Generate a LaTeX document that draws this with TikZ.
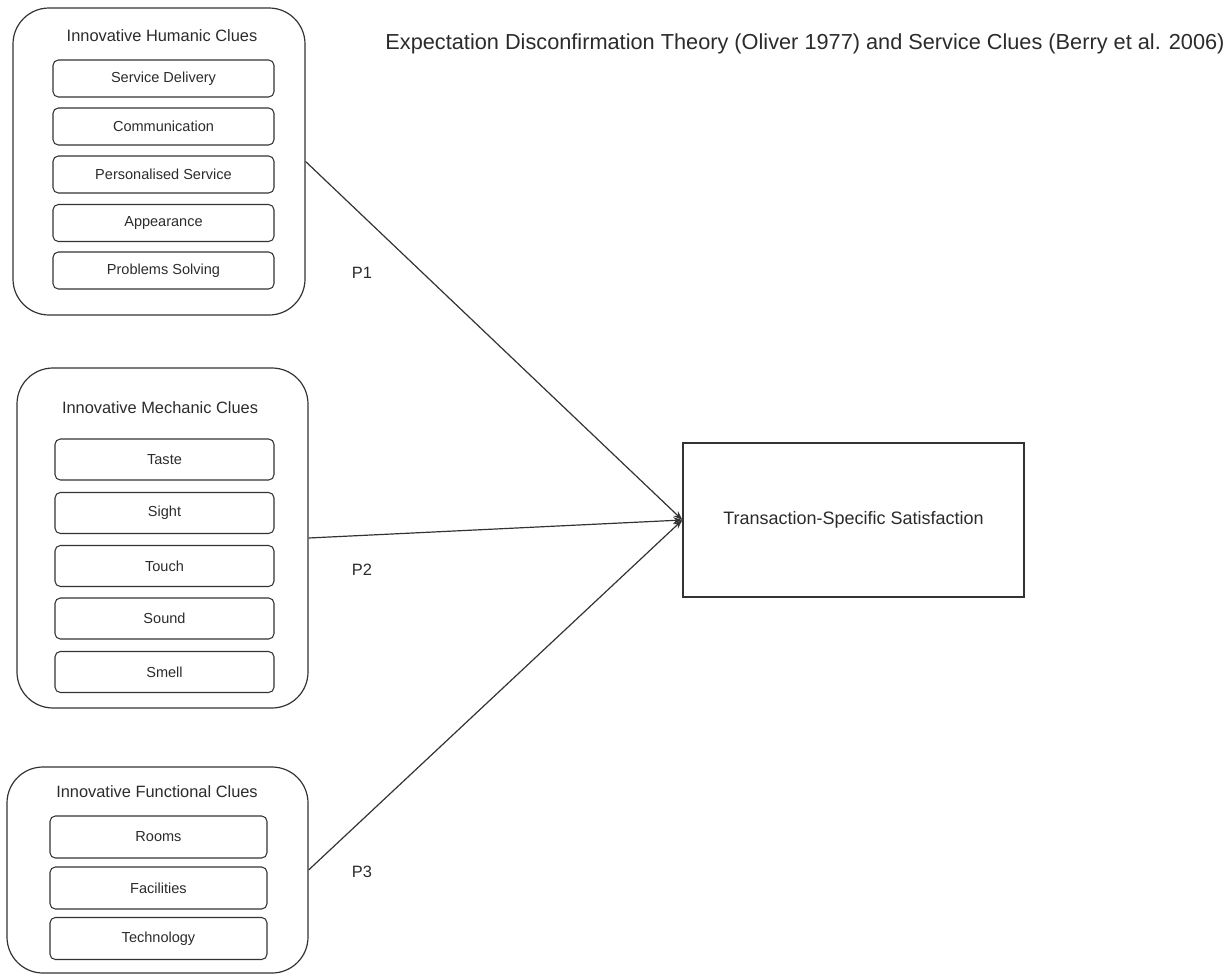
\documentclass[tikz,border=0pt]{standalone}
\usepackage{fontspec}
\setmainfont{Liberation Sans}
\usetikzlibrary{arrows.meta,positioning}
\definecolor{ink}{HTML}{2B2B2B}
\definecolor{edge}{HTML}{333333}

\begin{document}
\begin{tikzpicture}[x=0.75pt,y=-0.75pt,{group/.style={rectangle,rounded corners=27pt,draw=edge,line width=0.9pt,inner sep=0pt}},{item/.style={rectangle,rounded corners=4pt,draw=edge,line width=0.8pt,inner sep=0pt,text=ink,font=\fontsize{10.9}{13}\selectfont}},{heading/.style={text=ink,inner sep=0pt,font=\fontsize{12.3}{15}\selectfont}},{link/.style={draw=edge,line width=0.9pt,-{Stealth[length=7pt,width=5pt]}}}]
	\useasboundingbox (0,0) rectangle (1232,975);
	%%title
	\node [text=ink,inner sep=0pt,font=\fontsize{16.3}{19}\selectfont] (title) at (805,44) {Expectation Disconfirmation Theory (Oliver 1977) and Service Clues (Berry et al. 2006)};

	%%humanic clues
	\node [group,minimum width=219pt,minimum height=230.25pt] (hum) at (159,161.5) {};
	\node [heading] (humT) at (162,36) {Innovative Humanic Clues};
	\node [item,minimum width=165.75pt,minimum height=27.75pt] (hum1) at (163.5,78.5) {Service Delivery};
	\node [item,minimum width=165.75pt,minimum height=27.75pt] (hum2) at (163.5,126.5) {Communication};
	\node [item,minimum width=165.75pt,minimum height=27.75pt] (hum3) at (163.5,174.5) {Personalised Service};
	\node [item,minimum width=165.75pt,minimum height=27.75pt] (hum4) at (163.5,223) {Appearance};
	\node [item,minimum width=165.75pt,minimum height=27.75pt] (hum5) at (163.5,270.5) {Problems Solving};

	%%mechanic clues
	\node [group,minimum width=218.25pt,minimum height=255pt] (mec) at (162.5,538) {};
	\node [heading] (mecT) at (160,408) {Innovative Mechanic Clues};
	\node [item,minimum width=164.25pt,minimum height=30.75pt] (mec1) at (164.5,459.5) {Taste};
	\node [item,minimum width=164.25pt,minimum height=30.75pt] (mec2) at (164.5,513) {Sight};
	\node [item,minimum width=164.25pt,minimum height=30.75pt] (mec3) at (164.5,566) {Touch};
	\node [item,minimum width=164.25pt,minimum height=30.75pt] (mec4) at (164.5,618.5) {Sound};
	\node [item,minimum width=164.25pt,minimum height=30.75pt] (mec5) at (164.5,672) {Smell};

	%%functional clues
	\node [group,minimum width=225.75pt,minimum height=154.5pt] (fun) at (157.5,870) {};
	\node [heading] (funT) at (157,792) {Innovative Functional Clues};
	\node [item,minimum width=162.75pt,minimum height=31.5pt] (fun1) at (158.5,837) {Rooms};
	\node [item,minimum width=162.75pt,minimum height=31.5pt] (fun2) at (158.5,888) {Facilities};
	\node [item,minimum width=162.75pt,minimum height=31.5pt] (fun3) at (158.5,938.5) {Technology};

	%%satisfaction
	\node [rectangle,draw=edge,line width=0.9pt,minimum width=255.75pt,minimum height=115.5pt,text=ink,font=\fontsize{13.5}{16}\selectfont] (sat) at (853.5,520) {Transaction-Specific Satisfaction};

	%%links
	\draw [link] (hum.east) -- (sat.west);
	\draw [link] (mec.east) -- (sat.west);
	\draw [link] (fun.east) -- (sat.west);
	\node [heading] (p1) at (362,273) {P1};
	\node [heading] (p2) at (362,570) {P2};
	\node [heading] (p3) at (362,872) {P3};
\end{tikzpicture}
\end{document}
